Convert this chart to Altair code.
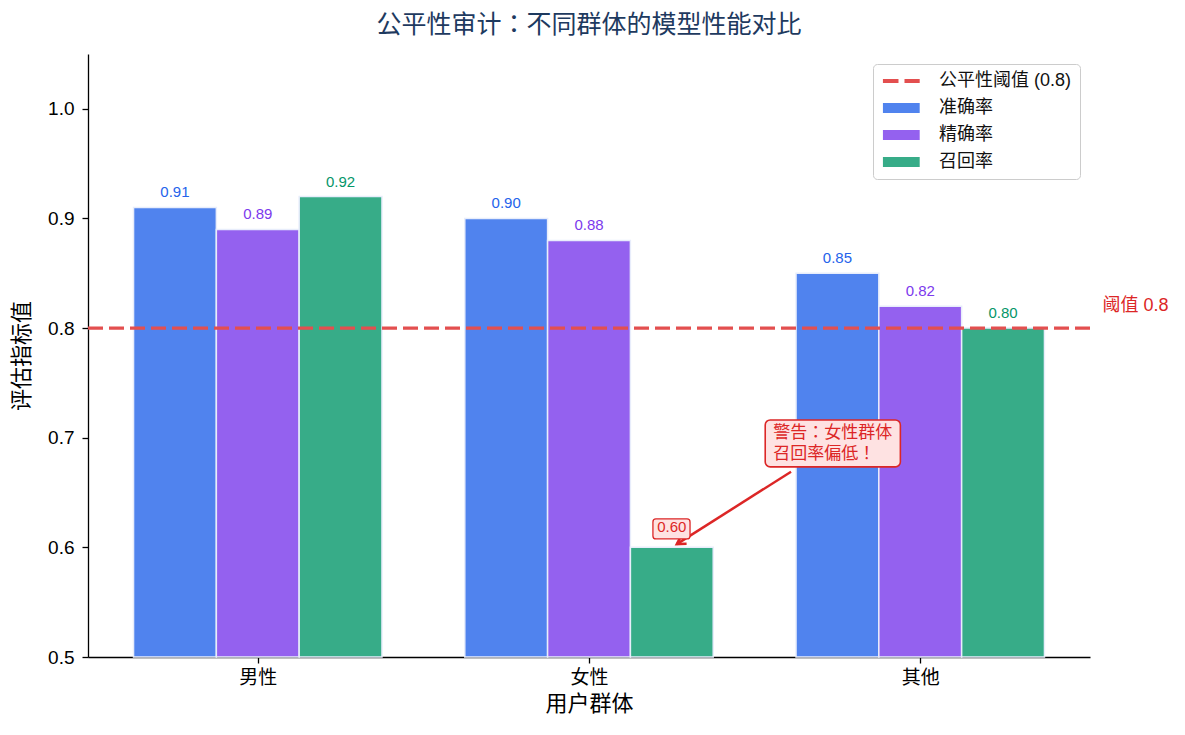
import altair as alt
import pandas as pd

# data
groups = ['男性', '女性', '其他']
metrics = ['准确率', '精确率', '召回率']
accuracy = [0.91, 0.90, 0.85]
precision = [0.89, 0.88, 0.82]
recall = [0.92, 0.60, 0.80]
threshold = 0.8
threshold_name = '公平性阈值 (0.8)'

bar_colors = ['#5083ee', '#9461ef', '#37ac88']
text_colors = ['#2563eb', '#7c3aed', '#059669']
warn = '#dc2626'
line_color = '#e34f4f'
FONT = 'Liberation Sans, Noto Sans CJK SC'
FONT_JP = 'Liberation Sans, Noto Sans CJK JP'  # centred full-width punctuation

bar_w = 0.25
rows = []
for mi, (m, vals) in enumerate(zip(metrics, [accuracy, precision, recall])):
    for gi, (g, v) in enumerate(zip(groups, vals)):
        c = gi + (mi - 1) * bar_w
        rows.append({'group': g, 'metric': m, 'value': v, 'xc': c,
                     'x0': c - bar_w / 2, 'x1': c + bar_w / 2,
                     'label': f'{v:.2f}', 'lc': text_colors[mi]})
df = pd.DataFrame(rows)
low = (df['group'] == '女性') & (df['metric'] == '召回率')

legend_names = [threshold_name] + metrics
x_scale = alt.Scale(domain=[-0.5125, 2.5125], nice=False, zero=False)
y_scale = alt.Scale(domain=[0.5, 1.05], nice=False, zero=False)
color_scale = alt.Scale(domain=legend_names, range=[line_color] + bar_colors)

# legend symbols: a dashed stroke for the threshold, wide patches for the bars
dash_path = 'M-1,-0.27H1.2V0.27H-1Z M2.05,-0.27H4.2V0.27H2.05Z'
patch_path = 'M-1,-0.72H4.2V0.72H-1Z'
shape_scale = alt.Scale(domain=legend_names, range=[dash_path] + [patch_path] * 3)
legend = alt.Legend(
    title=None, orient='top-right', offset=10, padding=8,
    fillColor='white', strokeColor='#cccccc', cornerRadius=4,
    labelFont=FONT, labelFontSize=18, labelColor='#111111',
    symbolSize=200, labelOffset=40, rowPadding=9,
    symbolOpacity=1, symbolStrokeWidth=0,
)

label_expr = '[' + ','.join(f"'{g}'" for g in groups) + '][datum.value]'
axis_style = dict(grid=False, tickSize=6, labelFont=FONT, titleFont=FONT,
                  labelFontSize=19, titleFontSize=22, titleFontWeight='normal',
                  domainColor='black', tickColor='black', labelColor='black',
                  titleColor='black', domainWidth=1.3, tickWidth=1.3)
x_axis = alt.Axis(values=[0, 1, 2], labelExpr=label_expr, title='用户群体',
                  labelAngle=0, labelPadding=5, titlePadding=6, **axis_style)
y_axis = alt.Axis(values=[0.5, 0.6, 0.7, 0.8, 0.9, 1.0], format='.1f', title='评估指标值',
                  labelPadding=8, titlePadding=14, **axis_style)

bars = alt.Chart(df).mark_bar(stroke='#e8edfb', strokeWidth=1.5).encode(
    x=alt.X('x0:Q', scale=x_scale, axis=x_axis),
    x2='x1:Q',
    y=alt.Y('value:Q', scale=y_scale, axis=y_axis),
    y2=alt.datum(0.5),
    color=alt.Color('metric:N', scale=color_scale, legend=legend),
)

thr = alt.Chart(pd.DataFrame({'name': [threshold_name], 'y': [threshold]})).mark_rule(
    strokeDash=[15, 6], strokeWidth=3.3).encode(
    y='y:Q',
    color=alt.Color('name:N', scale=color_scale, legend=legend),
)

# invisible layer that carries the legend shapes
keys = alt.Chart(pd.DataFrame({'name': legend_names})).mark_point(opacity=0, filled=True).encode(
    color=alt.Color('name:N', scale=color_scale, legend=legend),
    shape=alt.Shape('name:N', scale=shape_scale, legend=legend),
)

labels = alt.Chart(df[~low]).mark_text(font=FONT, fontSize=15, baseline='alphabetic', dy=-10).encode(
    x='xc:Q', y='value:Q', text='label:N',
    fill=alt.Fill('lc:N', scale=None, legend=None),
)

# annotation for the low recall of 女性
low_box = alt.Chart(pd.DataFrame({'a': [1.193], 'b': [1.305], 'c': [0.6077], 'd': [0.6259]})).mark_rect(
    fill='#fee2e2', stroke=warn, strokeWidth=1.3, cornerRadius=3).encode(
    x='a:Q', x2='b:Q', y='c:Q', y2='d:Q')
low_label = alt.Chart(df[low]).mark_text(font=FONT, fontSize=15, baseline='alphabetic', dy=-15, color=warn).encode(
    x='xc:Q', y='value:Q', text='label:N')

warn_box = alt.Chart(pd.DataFrame({'a': [1.532], 'b': [1.940], 'c': [0.6734], 'd': [0.7162]})).mark_rect(
    fill='#fee2e2', stroke=warn, strokeWidth=1.6, cornerRadius=5).encode(
    x='a:Q', x2='b:Q', y='c:Q', y2='d:Q')
warn_text = alt.Chart(pd.DataFrame({'x': [1.556], 'y': [0.7044], 't': ['警告：女性群体\n召回率偏低！']})).mark_text(
    font=FONT_JP, fontSize=17, align='left', baseline='middle', lineBreak='\n', lineHeight=21, color=warn).encode(
    x='x:Q', y='y:Q', text='t:N')

arrow_df = pd.DataFrame({'x': [1.61], 'y': [0.669], 'x2': [1.265], 'y2': [0.603]})
arrow = alt.Chart(arrow_df).mark_rule(color=warn, strokeWidth=2.5).encode(
    x='x:Q', y='y:Q', x2='x2:Q', y2='y2:Q')
head = alt.Chart(arrow_df).mark_point(
    shape='M-0.7,1.2L0,0L0.7,1.2', filled=False, stroke=warn, strokeWidth=2.5,
    size=200, angle=238, opacity=1).encode(x='x2:Q', y='y2:Q')

side = alt.Chart(pd.DataFrame({'x': [2.55], 'y': [0.82], 't': ['阈值 0.8']})).mark_text(
    font=FONT, fontSize=18, align='left', baseline='middle', color=warn).encode(
    x='x:Q', y='y:Q', text='t:N')

chart = alt.layer(bars, thr, keys, labels, warn_box, warn_text, arrow, head, low_box, low_label, side).properties(
    width=1002, height=603,
    title=alt.TitleParams('公平性审计：不同群体的模型性能对比', font=FONT_JP, fontSize=25,
                          color='#1e3a5f', fontWeight='normal', anchor='middle', offset=16),
    autosize=alt.AutoSizeParams(type='none'),
    padding={'left': 80, 'top': 46, 'right': 85, 'bottom': 62},
).configure_view(stroke=None)

chart.save('out.html', embed_options={'renderer': 'svg', 'actions': False})
